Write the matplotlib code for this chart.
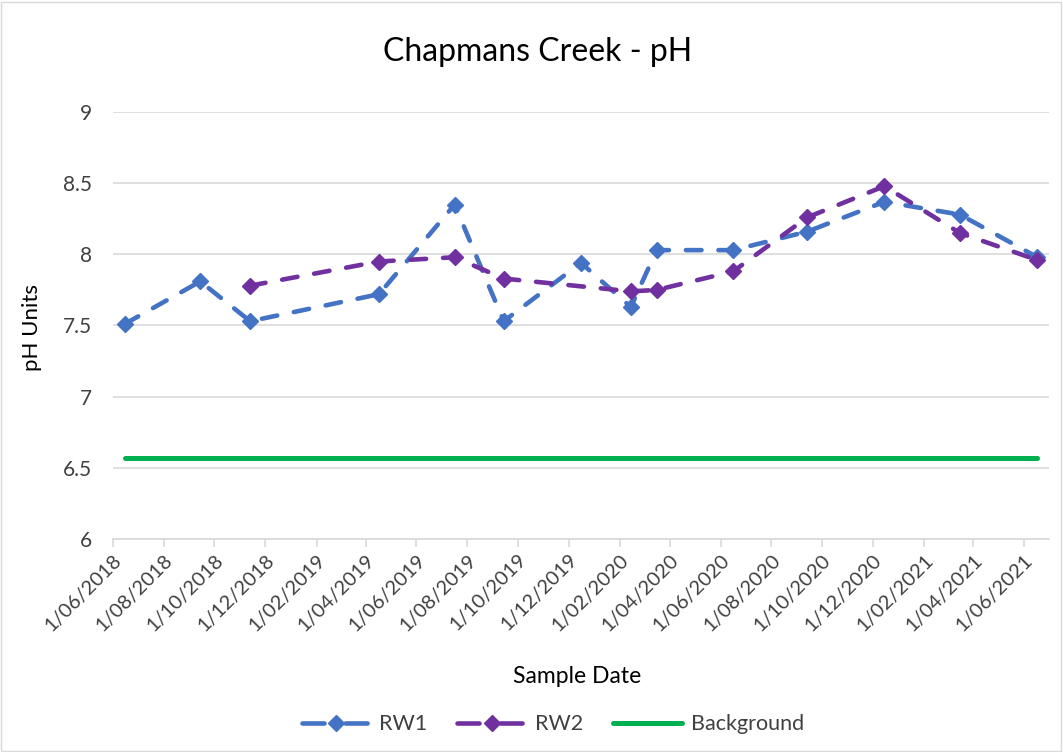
import numpy as np
import pandas as pd
import matplotlib
matplotlib.use('Agg')
from matplotlib import pyplot as plt
import matplotlib.dates as mdates
from matplotlib.ticker import FuncFormatter
from matplotlib.patches import Rectangle
from matplotlib.lines import Line2D

plt.rcParams['font.family'] = ['Lato', 'DejaVu Sans']

rw1_dates = pd.to_datetime(['2018-06-15', '2018-09-14', '2018-11-13', '2019-04-17',
                            '2019-07-17', '2019-09-14', '2019-12-16', '2020-02-14',
                            '2020-03-16', '2020-06-16', '2020-09-13', '2020-12-15',
                            '2021-03-16', '2021-06-17'])
rw1_ph = [7.51, 7.81, 7.53, 7.72, 8.35, 7.53, 7.94, 7.63, 8.03, 8.03, 8.16, 8.37, 8.28, 7.98]

rw2_dates = pd.to_datetime(['2018-11-13', '2019-04-17', '2019-07-17', '2019-09-14',
                            '2020-02-14', '2020-03-16', '2020-06-16', '2020-09-13',
                            '2020-12-15', '2021-03-16', '2021-06-17'])
rw2_ph = [7.78, 7.95, 7.98, 7.83, 7.74, 7.75, 7.88, 8.26, 8.48, 8.15, 7.96]

bg_dates = pd.to_datetime(['2018-06-15', '2021-06-17'])
bg_ph = [6.57, 6.57]

blue = '#4472C4'
purple = '#7030A0'
green = '#00B050'

fig = plt.figure(figsize=(10.63, 7.52), dpi=100)
ax = fig.add_axes([0.1063, 0.2837, 0.8805, 0.567])

ax.plot(rw1_dates, rw1_ph, color=blue, lw=3.3, dashes=(3.4, 3.7), dash_capstyle='round',
        marker='D', ms=8, zorder=3)
ax.plot(rw2_dates, rw2_ph, color=purple, lw=3.3, dashes=(3.4, 3.7), dash_capstyle='round',
        marker='D', ms=8, zorder=4)
ax.plot(bg_dates, bg_ph, color=green, lw=3.6, solid_capstyle='round', zorder=2)

ax.set_ylim(6, 9)
ax.set_yticks([6, 6.5, 7, 7.5, 8, 8.5, 9])
ax.yaxis.set_major_formatter(FuncFormatter(lambda v, p: ('%g' % v)))
ax.set_xlim(pd.Timestamp('2018-06-01'), pd.Timestamp('2021-07-01'))
ax.xaxis.set_major_locator(mdates.MonthLocator(bymonth=[2, 4, 6, 8, 10, 12], bymonthday=1))
ax.xaxis.set_major_formatter(FuncFormatter(
    lambda v, p: '%d/%02d/%d' % (mdates.num2date(v).day, mdates.num2date(v).month, mdates.num2date(v).year)))

ax.grid(axis='y', color='#D9D9D9', lw=1.2)
ax.set_axisbelow(True)
for s in ['top', 'right', 'left']:
    ax.spines[s].set_visible(False)
ax.spines['bottom'].set_color('#D9D9D9')
ax.spines['bottom'].set_linewidth(1.2)
ax.tick_params(axis='y', length=0, labelsize=15, pad=15, colors='#404040')
ax.tick_params(axis='x', length=6, color='#D9D9D9', width=1.2, labelsize=14.5,
               labelcolor='#404040', pad=3)
for lab in ax.get_xticklabels():
    lab.set_rotation(45)
    lab.set_ha('right')
    lab.set_rotation_mode('anchor')

fig.text(0.506, 0.931, 'Chapmans Creek - pH', ha='center', va='center', fontsize=23, color='#000000')
fig.text(0.030, 0.565, 'pH Units', rotation=90, ha='center', va='center', fontsize=16, color='#000000')
fig.text(0.543, 0.101, 'Sample Date', ha='center', va='center', fontsize=16.5, color='#000000')

# legend proxies: dash - diamond - dash like the Excel legend
h1 = Line2D([], [], color=blue, lw=3.3, dashes=(4.8, 4.6), dash_capstyle='round', marker='D', ms=8)
h2 = Line2D([], [], color=purple, lw=3.3, dashes=(4.8, 4.6), dash_capstyle='round', marker='D', ms=8)
h3 = Line2D([], [], color=green, lw=3.6, solid_capstyle='round')
fig.legend([h1, h2, h3], ['RW1', 'RW2', 'Background'], loc='center', bbox_to_anchor=(0.52, 0.037),
           ncol=3, frameon=False, fontsize=15.5, handlelength=3.2, handletextpad=0.4,
           columnspacing=1.4, labelcolor='#404040')

fig.patches.append(Rectangle((0.001, 0.001), 0.997, 0.997, transform=fig.transFigure,
                             fill=False, edgecolor='#D9D9D9', lw=1))

fig.savefig('out.png', dpi=100)
